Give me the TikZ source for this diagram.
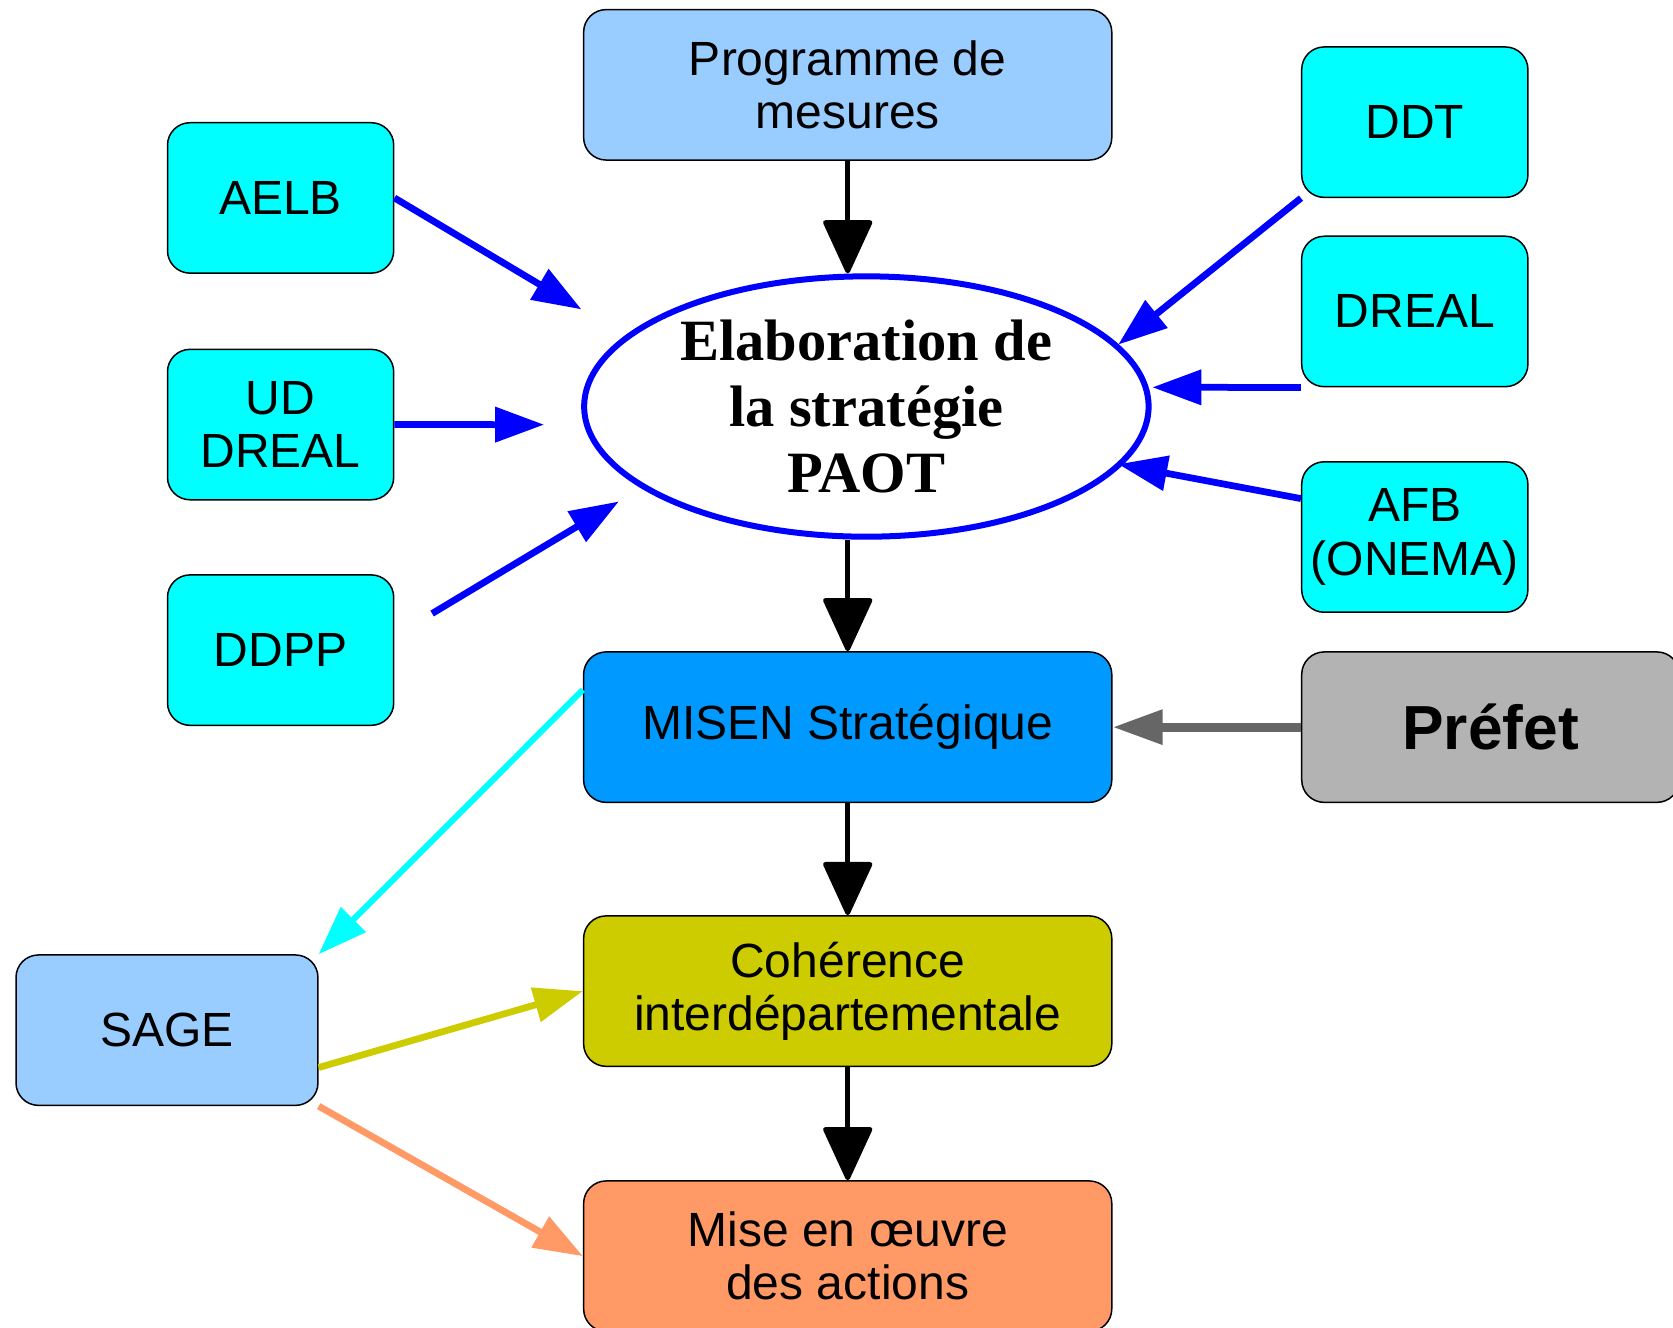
\documentclass[tikz,border=0pt]{standalone}
\usepackage{fontspec}
\setmainfont{Liberation Sans}
\newfontfamily\serifbf{Liberation Serif}
\usepackage{tikz}
\usetikzlibrary{positioning}
\usetikzlibrary{arrows.meta}
\usetikzlibrary{shapes.geometric}
\usetikzlibrary{calc}

\definecolor{acteur}{RGB}{0,255,255}
\definecolor{clair}{RGB}{153,204,255}
\definecolor{misenbleu}{RGB}{0,153,255}
\definecolor{prefgris}{RGB}{179,179,179}
\definecolor{cohjaune}{RGB}{204,204,0}
\definecolor{miseorange}{RGB}{255,153,102}
\definecolor{flechegris}{RGB}{102,102,102}

\begin{document}
\begin{tikzpicture}
\tikzset{etape/.style={rectangle,minimum width=4.95cm,minimum height=1.41cm, rounded corners=6pt, draw, thin, align=center, font=\fontsize{12.8}{14.2}\selectfont}}
\tikzset{acteurbox/.style={rectangle,minimum width=2.12cm,minimum height=1.41cm, inner xsep=1pt, rounded corners=6pt, draw, thin, fill=acteur, align=center, font=\fontsize{12.8}{14.2}\selectfont}}
\tikzset{strategie/.style={ellipse,minimum width=5.29cm,minimum height=2.44cm, inner sep=0pt, draw=blue, line width=1.6pt, fill=white, align=center, font=\serifbf\bfseries\fontsize{15.6}{17.6}\selectfont}}
\tikzset{fleche/.style={line width=1.25pt, -{Triangle[length=5.3mm,width=4.75mm,round]}}}
\tikzset{flechebleue/.style={line width=1.8pt, blue, -{Triangle[length=4.6mm,width=3.2mm]}}}
\tikzset{flechecouleur/.style={line width=1.8pt, -{Triangle[length=4.6mm,width=3.2mm]}}}
\useasboundingbox (0,0) rectangle (15.68,-12.44);
\clip (0,0) rectangle (15.68,-12.44);
\node[etape, fill=clair] (prog) at (7.945,-0.795) {Programme de\\mesures};
\node[strategie] (elab) at (8.12,-3.81) {Elaboration de\\la stratégie\\PAOT};
\node[etape, fill=misenbleu] (misen) at (7.945,-6.815) {MISEN Stratégique};
\node[etape, fill=cohjaune, below = 1.05cm of misen] (coh) {Cohérence\\interdépartementale};
\node[etape, fill=miseorange, below = 1.06cm of coh] (mise) {Mise en œuvre\\des actions};
\node[acteurbox] (aelb) at (2.63,-1.855) {AELB};
\node[acteurbox, below = 0.70cm of aelb] (ud) {UD\\DREAL};
\node[acteurbox, below = 0.69cm of ud] (ddpp) {DDPP};
\node[acteurbox] (ddt) at (13.26,-1.145) {DDT};
\node[acteurbox, below = 0.35cm of ddt] (dreal) {DREAL};
\node[acteurbox, below = 0.69cm of dreal] (afb) {AFB\\(ONEMA)};
\node[etape, fill=prefgris, minimum width=3.54cm, font=\bfseries\fontsize{16.6}{18}\selectfont] (prefet) at (13.97,-6.815) {Préfet};
\node[etape, fill=clair, minimum width=2.83cm] (sage) at (1.565,-9.655) {SAGE};
\coordinate (tAELB) at (5.45,-2.90);
\coordinate (tUD) at (5.10,-3.98);
\coordinate (sDDPP) at (4.05,-5.75);
\coordinate (tDDPP) at (5.80,-4.70);
\coordinate (tDDT) at (10.48,-3.23);
\coordinate (tDREAL) at (10.80,-3.63);
\coordinate (tAFB) at (10.48,-4.35);
\draw[fleche] (prog) -- (prog.south |- elab.north);
\draw[fleche] (prog.south |- elab.south) -- (misen);
\draw[fleche] (misen) -- (coh);
\draw[fleche] (coh) -- (mise);
\draw[flechebleue] (aelb.east) -- (tAELB);
\draw[flechebleue] (ud.east) -- (tUD);
\draw[flechebleue] (sDDPP) -- (tDDPP);
\draw[flechebleue] (ddt.south west) -- (tDDT);
\draw[flechebleue] (dreal.south west) -- (tDREAL);
\draw[flechebleue] ([yshift=3.6mm]afb.west) -- (tAFB);
\draw[line width=2.4pt, flechegris, -{Triangle[length=4.7mm,width=3.1mm]}] (prefet.west) -- (misen.east);
\draw[line width=1.6pt, acteur, -{Triangle[length=4.6mm,width=3.2mm]}] ([yshift=3.5mm]misen.west) -- (sage.north east);
\draw[flechecouleur, cohjaune] ([yshift=-3.5mm]sage.east) -- (coh.west);
\draw[flechecouleur, miseorange] (sage.south east) -- (mise.west);
\end{tikzpicture}
\end{document}
